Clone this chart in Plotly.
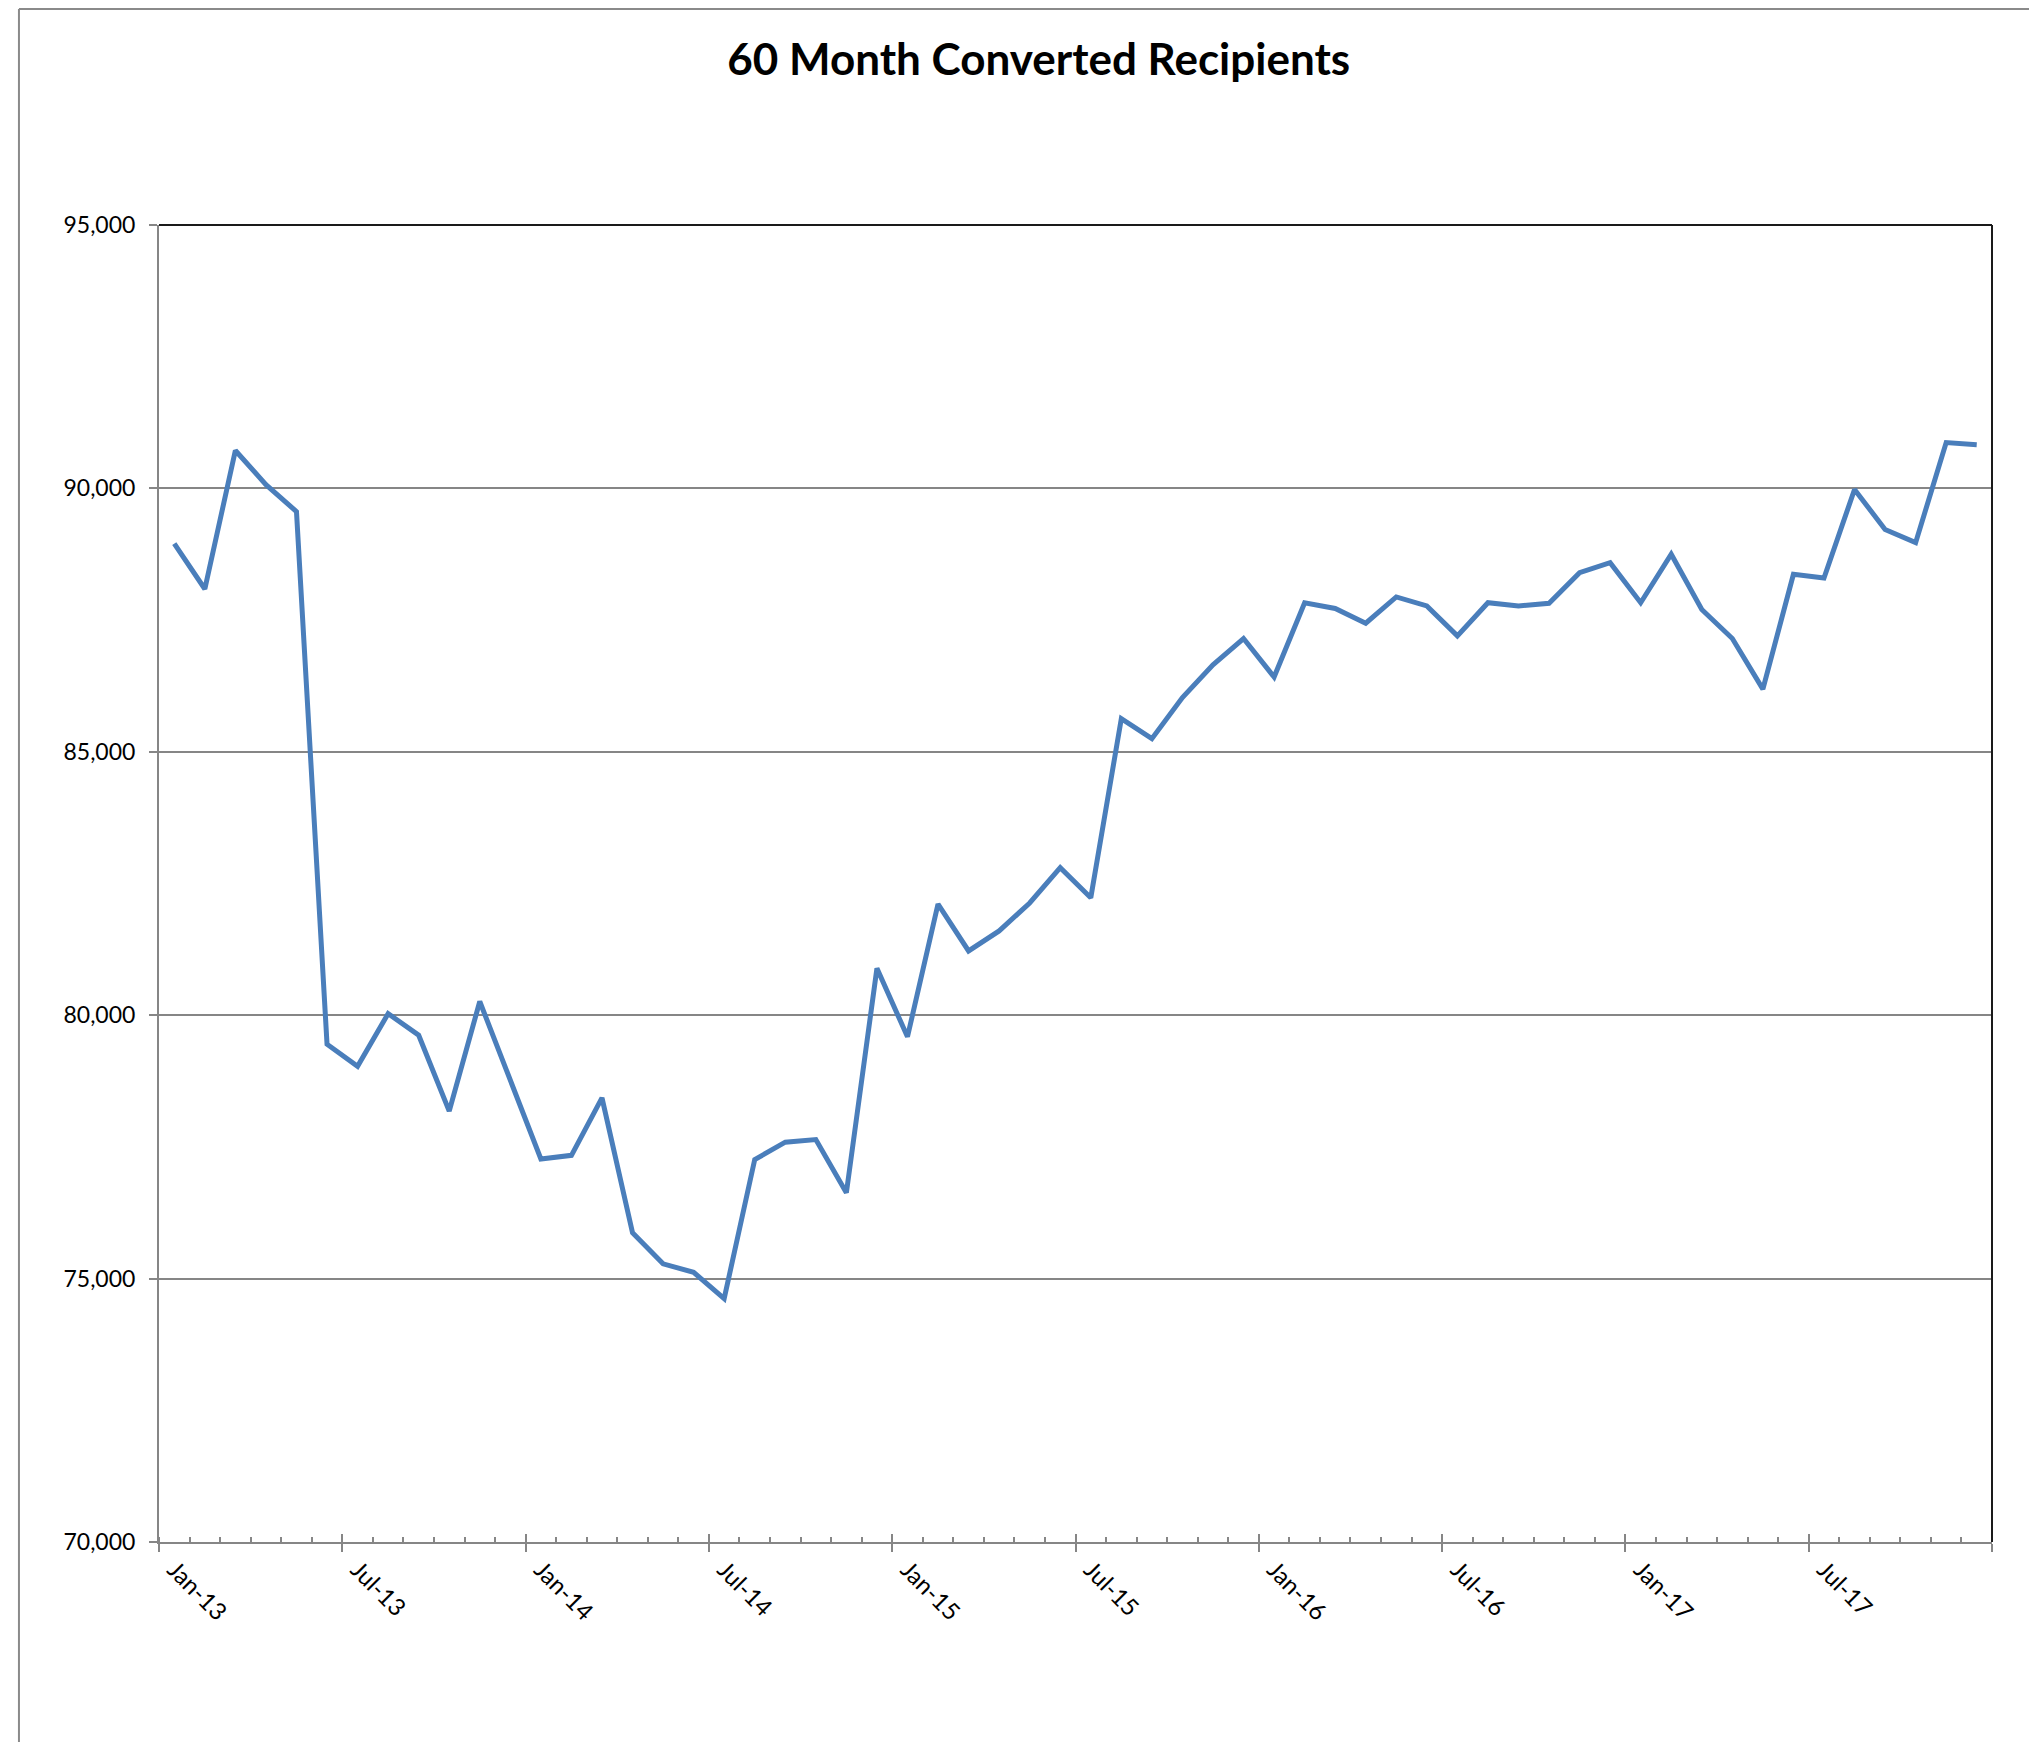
import plotly.graph_objects as go
import pandas as pd

# month labels, Jan-13 .. Dec-17
months = pd.date_range("2013-01-01", periods=60, freq="MS").strftime("%b-%y").tolist()

recipients = [
    88950, 88090, 90720, 90070, 89560, 79450, 79030, 80030, 79620, 78180, 80260, 78760,
    77270, 77340, 78430, 75870, 75280, 75120, 74620, 77260, 77590, 77640, 76630, 80890,
    79590, 82110, 81220, 81600, 82130, 82800, 82230, 85630, 85250, 86030, 86650, 87150,
    86420, 87830, 87720, 87440, 87940, 87770, 87200, 87830, 87770, 87820, 88400, 88590,
    87830, 88750, 87700, 87150, 86190, 88370, 88300, 89980, 89220, 88970, 90870, 90830,
]

y_ticks = [70000, 75000, 80000, 85000, 90000, 95000]

idx = list(range(len(months)))
label_pos = idx[::6]
label_txt = months[::6]
bounds = [i - 0.5 for i in idx[::6]] + [len(months) - 0.5]
xr = [-0.5, len(months) - 0.5]

FONT = "Lato"
GRAY = "#868686"

fig = go.Figure()
fig.add_trace(go.Scatter(
    x=idx, y=recipients, mode="lines",
    line=dict(color="#4A7EBB", width=5),
    showlegend=False, hoverinfo="skip",
))
# dummy traces so the overlay axes render
fig.add_trace(go.Scatter(x=[None], y=[None], xaxis="x2", showlegend=False))
fig.add_trace(go.Scatter(x=[None], y=[None], xaxis="x3", showlegend=False))

fig.update_layout(
    width=2037, height=1742,
    margin=dict(l=151, r=53, t=217, b=208),
    paper_bgcolor="white", plot_bgcolor="white",
    font=dict(family=FONT, color="black"),
    title=dict(text="<b>60 Month Converted Recipients</b>", x=0.506, xanchor="center",
               y=0.9705, yanchor="middle", font=dict(family=FONT, size=44, color="black")),
    # main x: outer half of major ticks + inside minor ticks, no labels
    xaxis=dict(range=xr, showgrid=False, zeroline=False, showline=True, linecolor=GRAY,
               linewidth=2, tickmode="array", tickvals=bounds, ticks="outside",
               ticklen=8, tickwidth=2, tickcolor=GRAY, showticklabels=False,
               minor=dict(tickmode="linear", tick0=-0.5, dtick=1, ticks="inside",
                          ticklen=5, tickwidth=1.5, tickcolor=GRAY)),
    # inner half of major ticks
    xaxis2=dict(range=xr, overlaying="x", anchor="y", side="bottom", showgrid=False,
                zeroline=False, showline=False, tickmode="array", tickvals=bounds,
                ticks="inside", ticklen=8, tickwidth=2, tickcolor=GRAY,
                showticklabels=False),
    # rotated month labels at category centres
    xaxis3=dict(range=xr, overlaying="x", anchor="y", side="bottom", showgrid=False,
                zeroline=False, showline=False, tickmode="array", tickvals=label_pos,
                ticktext=label_txt, ticks="", tickangle=45, ticklabelstandoff=8,
                tickfont=dict(family=FONT, size=24, color="black")),
    yaxis=dict(range=[70000, 95000], tickmode="array", tickvals=y_ticks,
               tickformat=",", showgrid=True, gridcolor=GRAY, gridwidth=1.5,
               zeroline=False, showline=True, linecolor=GRAY, linewidth=2,
               ticks="outside", ticklen=8, tickwidth=2, tickcolor=GRAY,
               ticklabelstandoff=9, tickfont=dict(family=FONT, size=23, color="black")),
    shapes=[
        # plot area border, top and right
        dict(type="line", xref="x domain", yref="y domain", x0=0, x1=1, y0=1, y1=1,
             line=dict(color="#1a1a1a", width=2)),
        dict(type="line", xref="x domain", yref="y domain", x0=1, x1=1, y0=0, y1=1,
             line=dict(color="#1a1a1a", width=2)),
        # chart area border, left and top
        dict(type="line", xref="paper", yref="paper", x0=-0.0764, x1=-0.0764,
             y0=-0.16, y1=1.1640, line=dict(color="#8a8a8a", width=2)),
        dict(type="line", xref="paper", yref="paper", x0=-0.0764, x1=1.03,
             y0=1.1640, y1=1.1640, line=dict(color="#8a8a8a", width=2)),
    ],
)

fig.write_html("out.html")
